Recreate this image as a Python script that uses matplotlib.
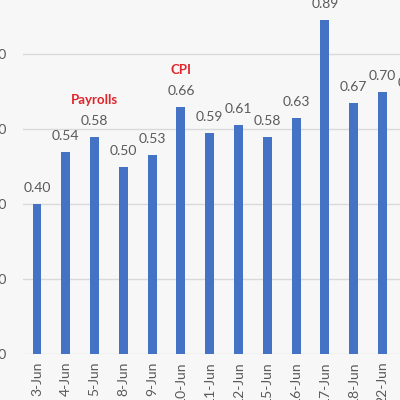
import matplotlib
matplotlib.use("Agg")
import matplotlib.pyplot as plt

dates = ["3-Jun", "4-Jun", "5-Jun", "8-Jun", "9-Jun", "10-Jun", "11-Jun",
         "12-Jun", "15-Jun", "16-Jun", "17-Jun", "18-Jun", "22-Jun", "23-Jun"]
values = [0.40, 0.54, 0.58, 0.50, 0.53, 0.66, 0.59, 0.61, 0.58, 0.63,
          0.89, 0.67, 0.70, 0.68]
yticks = [0.0, 0.2, 0.4, 0.6, 0.8, 1.0]
events = {"5-Jun": "Payrolls", "10-Jun": "CPI"}

bg = "#f7f7f7"
fig = plt.figure(figsize=(4, 4), dpi=100, facecolor=bg)
W = 400.0
n = len(dates)
spacing = 28.79
left_px = 37 - 0.5 * spacing
ax = fig.add_axes([left_px / W, 46 / W, n * spacing / W, 375 / W])
ax.set_facecolor(bg)

x = list(range(n))
ax.bar(x, values, width=0.31, color="#4472C4", zorder=3)
ax.set_xlim(-0.5, n - 0.5)
ax.set_ylim(0, 1.0)
ax.set_yticks(yticks)
ax.set_yticklabels([f"{v:.2f}" for v in yticks])
ax.set_xticks(x)
ax.set_xticklabels(dates, rotation=90, va="top", ha="center")
ax.tick_params(axis="both", length=0, labelsize=10, colors="#595959")
ax.tick_params(axis="y", pad=11.5)
ax.tick_params(axis="x", pad=5.5)
for lab in ax.get_xticklabels() + ax.get_yticklabels():
    lab.set_fontfamily("Lato")
ax.grid(axis="y", color="#d9d9d9", linewidth=1.0, zorder=0)
for s in ax.spines.values():
    s.set_visible(False)

for xi, v, d in zip(x, values, dates):
    ax.annotate(f"{v:.2f}", (xi, v), xytext=(0, 8.6), textcoords="offset points",
                ha="center", va="baseline", fontsize=10, color="#595959",
                fontfamily="Lato")
    if d in events:
        ax.annotate(events[d], (xi, v), xytext=(0, 23.5), textcoords="offset points",
                    ha="center", va="baseline", fontsize=9.5, color="#E0242A",
                    fontweight="bold", fontfamily="Lato")

fig.savefig("out.png", dpi=100, facecolor=bg)
